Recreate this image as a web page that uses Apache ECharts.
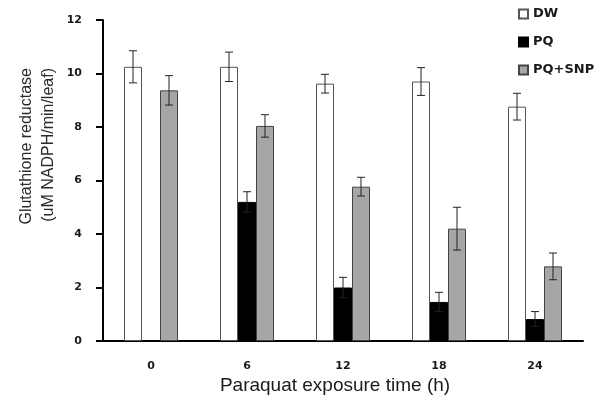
<!DOCTYPE html>
<html>
<head>
<meta charset="utf-8">
<script src="https://cdn.jsdelivr.net/npm/echarts@6/dist/echarts.min.js"></script>
<style>
  html, body { margin: 0; padding: 0; background: #fff; }
  #chart { width: 600px; height: 401px; }
</style>
</head>
<body>
<div id="chart"></div>
<script>
// values
var categories = ['0', '6', '12', '18', '24'];
var dwValues = [10.25, 10.25, 9.62, 9.7, 8.76];
var dwErrors = [0.6, 0.55, 0.35, 0.52, 0.5];
var pqValues = [null, 5.2, 2.0, 1.46, 0.82];
var pqErrors = [null, 0.38, 0.38, 0.36, 0.28];
var snpValues = [9.37, 8.04, 5.77, 4.2, 2.79];
var snpErrors = [0.55, 0.42, 0.35, 0.8, 0.5];

var barWidth = 18;
var chart = echarts.init(document.getElementById('chart'));

function errorData(values, errors) {
  var out = [];
  values.forEach(function(v, i) {
    if (v != null && errors[i] != null) {
      out.push([i, v - errors[i], v + errors[i]]);
    }
  });
  return out;
}

function errorSeries(values, errors, shift) {
  return {
    type: 'custom',
    silent: true,
    z: 10,
    data: errorData(values, errors),
    renderItem: function(params, api) {
      var lo = api.coord([api.value(0), api.value(1)]);
      var hi = api.coord([api.value(0), api.value(2)]);
      var x = lo[0] + shift * barWidth;
      var cap = 4;
      var style = { stroke: '#222', lineWidth: 1 };
      return {
        type: 'group',
        children: [
          { type: 'line', shape: { x1: x, y1: lo[1], x2: x, y2: hi[1] }, style: style },
          { type: 'line', shape: { x1: x - cap, y1: lo[1], x2: x + cap, y2: lo[1] }, style: style },
          { type: 'line', shape: { x1: x - cap, y1: hi[1], x2: x + cap, y2: hi[1] }, style: style }
        ]
      };
    }
  };
}

var tickFont = { fontFamily: 'DejaVu Sans', fontWeight: 'bold', fontSize: 11, color: '#1a1a1a' };

chart.setOption({
  backgroundColor: '#fff',
  animation: false,
  grid: { left: 103, right: 17, top: 20, bottom: 60 },
  legend: {
    orient: 'vertical',
    left: 513,
    top: 2,
    itemWidth: 9,
    itemHeight: 9,
    itemGap: 14,
    icon: 'rect',
    textStyle: { fontFamily: 'DejaVu Sans', fontWeight: 'bold', fontSize: 13, color: '#1a1a1a', lineHeight: 14 },
    data: ['DW', 'PQ', 'PQ+SNP']
  },
  xAxis: {
    type: 'category',
    data: categories,
    boundaryGap: true,
    axisLine: { lineStyle: { color: '#000', width: 2 } },
    axisTick: { length: 5, lineStyle: { color: '#000', width: 2 } },
    axisLabel: Object.assign({ margin: 20 }, tickFont)
  },
  yAxis: {
    type: 'value',
    min: 0,
    max: 12,
    interval: 2,
    splitLine: { show: false },
    axisLine: { show: true, lineStyle: { color: '#000', width: 2 } },
    axisTick: { show: true, length: 7, lineStyle: { color: '#000', width: 2 } },
    axisLabel: Object.assign({ margin: 21 }, tickFont)
  },
  graphic: [
    {
      type: 'text',
      x: 16,
      y: 68,
      rotation: Math.PI / 2,
      style: {
        text: 'Glutathione reductase\n(uM NADPH/min/leaf)',
        font: '16px "Liberation Sans"',
        fill: '#2a2a2a',
        align: 'right',
        verticalAlign: 'top',
        lineHeight: 22
      }
    },
    {
      type: 'text',
      x: 335,
      y: 386,
      style: {
        text: 'Paraquat exposure time (h)',
        font: '19px "Liberation Sans"',
        fill: '#1a1a1a',
        align: 'center',
        verticalAlign: 'middle'
      }
    }
  ],
  series: [
    {
      name: 'DW',
      type: 'bar',
      data: dwValues,
      barWidth: barWidth,
      barGap: '0%',
      itemStyle: { color: '#fff', borderColor: '#555', borderWidth: 1 }
    },
    {
      name: 'PQ',
      type: 'bar',
      data: pqValues,
      barWidth: barWidth,
      barGap: '0%',
      itemStyle: { color: '#000', borderColor: '#000', borderWidth: 1 }
    },
    {
      name: 'PQ+SNP',
      type: 'bar',
      data: snpValues,
      barWidth: barWidth,
      barGap: '0%',
      itemStyle: { color: '#a6a6a6', borderColor: '#444', borderWidth: 1 }
    },
    errorSeries(dwValues, dwErrors, -1),
    errorSeries(pqValues, pqErrors, 0),
    errorSeries(snpValues, snpErrors, 1)
  ]
});
</script>
</body>
</html>
